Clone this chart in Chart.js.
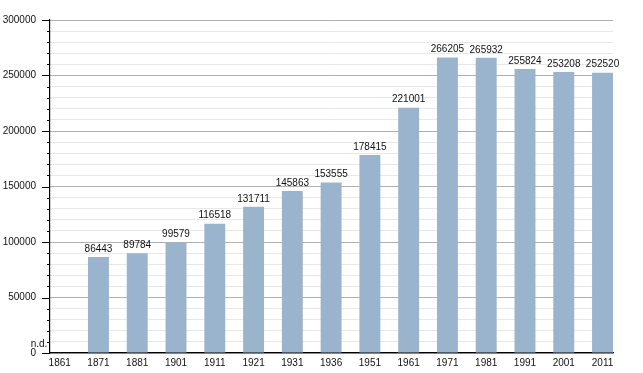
<!DOCTYPE html>
<html>
<head>
<meta charset="utf-8">
<script src="https://cdn.jsdelivr.net/npm/chart.js@4"></script>
<style>
  html, body { margin: 0; padding: 0; background: #fff; }
  #wrap { width: 643px; height: 373px; }
</style>
</head>
<body>
<div id="wrap"><canvas id="grafico"></canvas></div>
<script>
var anni = ["1861", "1871", "1881", "1901", "1911", "1921", "1931", "1936", "1951", "1961", "1971", "1981", "1991", "2001", "2011"];
var abitanti = [null, 86443, 89784, 99579, 116518, 131711, 145863, 153555, 178415, 221001, 266205, 265932, 255824, 253208, 252520];
var etichettaNd = "n.d.";

// etichette sopra le barre e tacche dell'asse y
var etichette = {
  id: 'etichette',
  afterDatasetsDraw: function(chart) {
    var ctx = chart.ctx;
    var meta = chart.getDatasetMeta(0);
    var y = chart.scales.y;
    var left = chart.chartArea.left;
    ctx.save();
    ctx.font = '10px "Liberation Sans", Arial, sans-serif';
    ctx.fillStyle = '#111';
    ctx.textAlign = 'center';
    ctx.textBaseline = 'bottom';
    meta.data.forEach(function(bar, i) {
      var v = abitanti[i];
      if (v === null) {
        ctx.fillText(etichettaNd, left - 11, y.getPixelForValue(0) - 4);
      } else {
        ctx.fillText(String(v), bar.x, bar.y - 3);
      }
    });
    ctx.strokeStyle = '#000';
    ctx.lineWidth = 1;
    y.ticks.forEach(function(t) {
      var py = Math.round(y.getPixelForValue(t.value)) + 0.5;
      var len = t.value % 50000 === 0 ? 8 : 3;
      ctx.beginPath();
      ctx.moveTo(left - len, py);
      ctx.lineTo(left, py);
      ctx.stroke();
    });
    ctx.restore();
  }
};

var ctx = document.getElementById('grafico').getContext('2d');
var grafico = new Chart(ctx, {
  type: 'bar',
  data: {
    datasets: [{
      data: abitanti.map(function(v, i) { return { x: i, y: v }; }),
      backgroundColor: '#9bb4cd',
      borderWidth: 0
    }]
  },
  options: {
    responsive: true,
    maintainAspectRatio: false,
    animation: false,
    layout: { padding: { top: 20, right: 30, left: 0, bottom: 0 } },
    plugins: {
      legend: { display: false },
      tooltip: { enabled: false }
    },
    datasets: {
      bar: { categoryPercentage: 1, barPercentage: 0.54 }
    },
    scales: {
      x: {
        type: 'linear',
        offset: false,
        min: -0.25,
        max: 14.27,
        grid: { display: false, drawTicks: false },
        border: { color: '#000', width: 1.2 },
        afterBuildTicks: function(s) {
          s.ticks = anni.map(function(a, i) { return { value: i }; });
        },
        ticks: {
          color: '#111',
          padding: 4,
          maxRotation: 0,
          autoSkip: false,
          font: { family: '"Liberation Sans", Arial, sans-serif', size: 10 },
          callback: function(v) { return anni[v] !== undefined ? anni[v] : ''; }
        },
        afterFit: function(s) { s.height = 20; }
      },
      y: {
        min: 0,
        max: 300000,
        border: { color: '#000', width: 1.2 },
        grid: {
          color: function(c) { return c.tick.value % 50000 === 0 ? '#b0b0b0' : '#e8e8e8'; },
          drawTicks: false
        },
        ticks: {
          stepSize: 10000,
          autoSkip: false,
          color: '#111',
          padding: 14,
          font: { family: '"Liberation Sans", Arial, sans-serif', size: 10 },
          callback: function(v) { return v % 50000 === 0 ? String(v) : ''; }
        },
        afterFit: function(s) { s.width = 50; }
      }
    }
  },
  plugins: [etichette]
});
</script>
</body>
</html>
